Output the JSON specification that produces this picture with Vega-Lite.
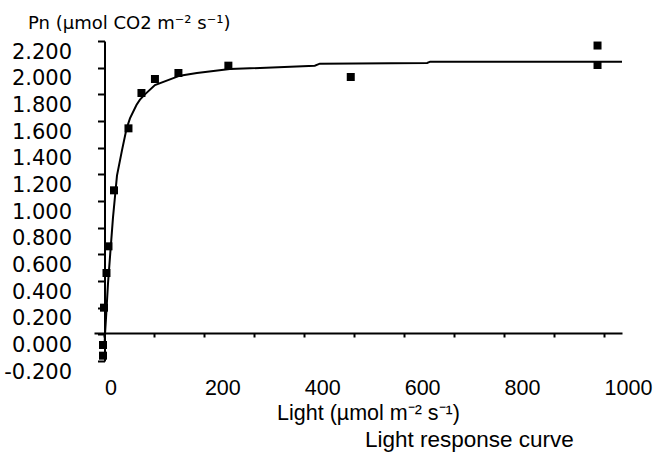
{
  "$schema": "https://vega.github.io/schema/vega-lite/v6.json",
  "autosize": "none",
  "width": 528,
  "height": 320,
  "padding": {"left": 94, "top": 41, "right": 33, "bottom": 96},
  "background": "white",
  "config": {"view": {"stroke": null}},
  "title": {
    "text": "Light response curve",
    "orient": "bottom",
    "anchor": "start",
    "frame": "group",
    "dx": 271,
    "offset": 5,
    "font": "Liberation Sans",
    "fontSize": 22.5,
    "fontWeight": "normal",
    "color": "black"
  },
  "datasets": {
    "curve": [
      {"light": 0, "pn": -0.09},
      {"light": 1, "pn": 0.0},
      {"light": 3, "pn": 0.12},
      {"light": 7, "pn": 0.38},
      {"light": 12, "pn": 0.63},
      {"light": 17, "pn": 0.875},
      {"light": 25, "pn": 1.19},
      {"light": 35, "pn": 1.38},
      {"light": 44, "pn": 1.54},
      {"light": 51, "pn": 1.62},
      {"light": 64, "pn": 1.72},
      {"light": 71, "pn": 1.76},
      {"light": 81, "pn": 1.8},
      {"light": 101, "pn": 1.87},
      {"light": 151, "pn": 1.94},
      {"light": 185, "pn": 1.96},
      {"light": 251, "pn": 1.99},
      {"light": 291, "pn": 1.995},
      {"light": 421, "pn": 2.015},
      {"light": 431, "pn": 2.03},
      {"light": 646, "pn": 2.035},
      {"light": 652, "pn": 2.045},
      {"light": 1036, "pn": 2.045}
    ],
    "obs": [
      {"light": -3, "pn": -0.08},
      {"light": -3, "pn": -0.16},
      {"light": -1, "pn": 0.2},
      {"light": 4, "pn": 0.46},
      {"light": 8, "pn": 0.66},
      {"light": 19, "pn": 1.08},
      {"light": 48, "pn": 1.545},
      {"light": 74, "pn": 1.81},
      {"light": 101, "pn": 1.915},
      {"light": 148, "pn": 1.96},
      {"light": 248, "pn": 2.015},
      {"light": 493, "pn": 1.93},
      {"light": 987, "pn": 2.166},
      {"light": 987, "pn": 2.02}
    ]
  },
  "encoding": {
    "x": {
      "field": "light",
      "type": "quantitative",
      "scale": {"domain": [-21, 1036], "nice": false, "zero": false},
      "axis": {
        "orient": "bottom",
        "offset": -28,
        "values": [0, 100, 200, 300, 400, 500, 600, 700, 800, 900, 1000],
        "labelExpr": "datum.value % 200 == 0 ? format(datum.value, 'd') : ''",
        "grid": false,
        "domainColor": "black",
        "domainWidth": 2,
        "tickColor": "black",
        "tickWidth": 2,
        "tickSize": 4,
        "labelAlign": "left",
        "labelBaseline": "top",
        "labelPadding": 40,
        "labelFont": "Liberation Sans",
        "labelFontSize": 21.5,
        "labelColor": "black",
        "labelOverlap": false,
        "labelFlush": false,
        "title": "Light (µmol m⁻² s⁻¹)",
        "titleFont": "Liberation Sans",
        "titleFontSize": 21.5,
        "titleFontWeight": "normal",
        "titleColor": "black",
        "titleAlign": "center",
        "titleBaseline": "alphabetic",
        "titleX": 274,
        "titleY": 86
      }
    },
    "y": {
      "field": "pn",
      "type": "quantitative",
      "scale": {"domain": [-0.2, 2.2], "nice": false, "zero": false},
      "axis": {
        "orient": "left",
        "offset": -10.5,
        "values": [-0.2, 0, 0.2, 0.4, 0.6, 0.8, 1, 1.2, 1.4, 1.6, 1.8, 2, 2.2],
        "labelExpr": "datum.value < 0 ? '-' + format(-datum.value, '.3f') : format(datum.value, '.3f')",
        "grid": false,
        "domainColor": "black",
        "domainWidth": 2,
        "tickColor": "black",
        "tickWidth": 2,
        "tickSize": 7,
        "labelAlign": "right",
        "labelBaseline": "middle",
        "labelOffset": 11,
        "labelPadding": 26,
        "labelFont": "DejaVu Sans",
        "labelFontSize": 21,
        "labelColor": "black",
        "labelOverlap": false,
        "labelFlush": false,
        "title": "Pn (µmol CO2 m⁻² s⁻¹)",
        "titleFont": "DejaVu Sans",
        "titleFontSize": 18,
        "titleFontWeight": "normal",
        "titleColor": "black",
        "titleAngle": 0,
        "titleAlign": "left",
        "titleBaseline": "alphabetic",
        "titleX": -77,
        "titleY": -13
      }
    }
  },
  "layer": [
    {
      "data": {"name": "curve"},
      "mark": {"type": "line", "color": "black", "strokeWidth": 2, "clip": true}
    },
    {
      "data": {"name": "obs"},
      "mark": {"type": "point", "shape": "square", "size": 64, "filled": true, "color": "black", "opacity": 1}
    }
  ]
}
